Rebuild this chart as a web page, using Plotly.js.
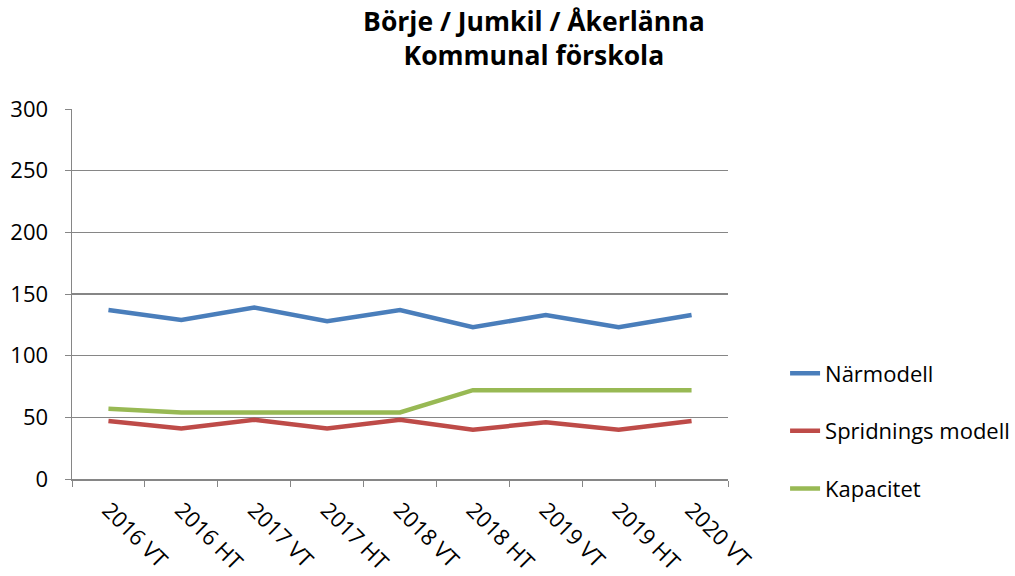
<!DOCTYPE html>
<html>
<head>
<meta charset="utf-8">
<script src="https://cdn.plot.ly/plotly-3.0.1.min.js"></script>
<style>html,body{margin:0;padding:0;background:#fff;}#chart{width:1015px;height:576px;}</style>
</head>
<body>
<div id="chart"></div>
<script>
const categories = ["2016 VT","2016 HT","2017 VT","2017 HT","2018 VT","2018 HT","2019 VT","2019 HT","2020 VT"];
const narmodell = [137,129,139,128,137,123,133,123,133];
const spridning = [47,41,48,41,48,40,46,40,47];
const kapacitet = [57,54,54,54,54,72,72,72,72];
const seriesNames = ["Närmodell","Spridnings modell","Kapacitet"];
const yTicks = [0,50,100,150,200,250,300];

const font = "'Open Sans', Lato, sans-serif";
const colors = ["#4a7ebb","#be4b48","#98b954"];
const data = [narmodell, spridning, kapacitet].map((v,i)=>({
  x: categories, y: v, type:"scatter", mode:"lines", name: seriesNames[i],
  legendgroup: "g"+i,
  line:{color:colors[i], width:4.5}
}));

const layout = {
  width:1015, height:576,
  margin:{l:72, r:287, t:109, b:97, autoexpand:false},
  paper_bgcolor:"#fff", plot_bgcolor:"#fff",
  font:{family:font, size:22, color:"#000"},
  title:{text:"<b>Börje / Jumkil / Åkerlänna<br>Kommunal förskola</b>", x:0.526, xanchor:"center", y:0.947, yanchor:"top", font:{size:26.5, family:font}},
  xaxis:{type:"category", tickson:"boundaries", ticks:"outside", ticklen:6, tickcolor:"#868686",
    showline:true, linecolor:"#868686", linewidth:1.5, showgrid:false, tickangle:45,
    tickfont:{size:22, family:font}, range:[-0.5, 8.5], ticklabelstandoff:8},
  yaxis:{range:[0,300], tickvals:yTicks, ticks:"outside", ticklen:6, tickcolor:"#868686",
    showline:true, linecolor:"#868686", linewidth:1.5, gridcolor:"#868686", gridwidth:1.5,
    zeroline:false, tickfont:{size:22, family:font}, ticklabelstandoff:12},
  showlegend:true,
  legend:{x:1.087, xanchor:"left", y:0.13, yanchor:"middle", font:{size:22, family:font}, tracegroupgap:26, itemwidth:30}
};
Plotly.newPlot("chart", data, layout, {displayModeBar:false, staticPlot:true});
</script>
</body>
</html>
